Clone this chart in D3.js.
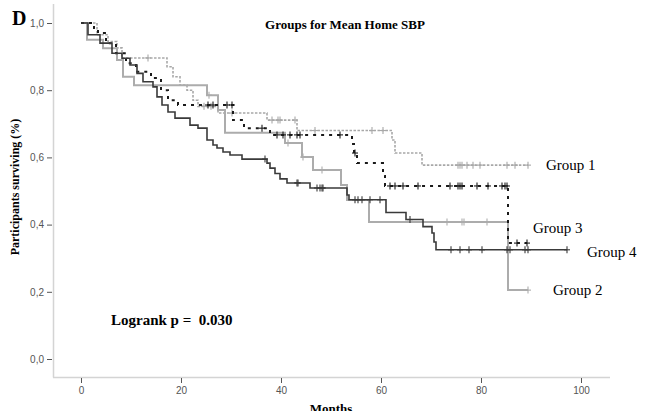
<!DOCTYPE html>
<html>
<head>
<meta charset="utf-8">
<script src="https://cdn.jsdelivr.net/npm/d3@7"></script>
<style>
  body { margin: 0; background: #fff; }
  .serif { font-family: "Liberation Serif", "Times New Roman", serif; }
  .tick text { font-family: "Liberation Sans", Arial, sans-serif; font-size: 10px; fill: #555; }
  .tick line { stroke: #555; }
</style>
</head>
<body>
<div id="chart"></div>
<script>
const WIDTH = 645;
const HEIGHT = 411;

// axis ticks
const monthTicks = [0, 20, 40, 60, 80, 100];
const survTicks = [0, 0.2, 0.4, 0.6, 0.8, 1.0];

// Group 1 (light grey dotted)
const g1Times = [0, 3.2, 5.4, 7.2, 8.2, 17.2, 18.4, 19.8, 21.2, 22.4, 23.4, 27.4, 37.2, 43.2, 62.2, 62.8, 68.2, 89.4];
const g1Surv  = [1.0, 0.965, 0.945, 0.926, 0.896, 0.87, 0.84, 0.815, 0.80, 0.77, 0.752, 0.732, 0.711, 0.68, 0.652, 0.613, 0.577, 0.577];
const g1Censor = [13.4, 24.6, 26.0, 30.2, 38.2, 39.4, 39.8, 42.8, 46.8, 58.2, 60.4, 75.4, 75.8, 76.2, 77.2, 78.4, 79.8, 85.2, 86.8, 89.4];

// Group 2 (light grey solid)
const g2Times = [0, 1.2, 4.4, 7.2, 8.4, 10.6, 25.2, 27.4, 28.8, 40.8, 44.2, 46.4, 52.0, 53.2, 57.6, 85.4, 89.4];
const g2Surv  = [1.0, 0.95, 0.925, 0.89, 0.84, 0.815, 0.785, 0.741, 0.673, 0.643, 0.601, 0.5625, 0.518, 0.473, 0.408, 0.205, 0.205];
const g2Censor = [25.6, 41.4, 44.4, 48.2, 73.2, 76.2, 76.6, 81.2, 89.4];

// Group 3 (black dashed)
const g3Times = [0, 2.6, 3.4, 5.0, 7.0, 9.0, 11.0, 14.0, 16.0, 17.4, 19.4, 30.4, 32.6, 37.8, 54.2, 54.6, 55.2, 60.4, 60.8, 85.4, 89.2];
const g3Surv  = [1.0, 0.985, 0.97, 0.94, 0.91, 0.88, 0.855, 0.836, 0.80, 0.77, 0.756, 0.711, 0.687, 0.667, 0.64, 0.613, 0.583, 0.545, 0.515, 0.345, 0.345];
const g3Censor = [25.4, 26.4, 29.2, 30.2, 36.2, 39.2, 40.4, 41.8, 43.2, 43.8, 51.8, 54.8, 61.8, 62.8, 64.4, 67.4, 73.8, 75.4, 75.8, 76.2, 79.2, 81.4, 84.2, 84.8, 85.2, 87.2, 89.2];

// Group 4 (dark grey solid)
const g4Times = [0, 1.4, 3.8, 6.2, 8.2, 9.8, 11.2, 12.4, 14.4, 15.2, 16.2, 17.4, 18.8, 21.8, 23.4, 25.2, 26.4, 27.2, 28.4, 29.8, 32.2, 37.2, 37.8, 38.8, 39.8, 41.2, 45.8, 53.2, 53.6, 61.0, 65.0, 68.4, 70.2, 70.6, 71.0, 97.2];
const g4Surv  = [1.0, 0.965, 0.94, 0.91, 0.895, 0.875, 0.85, 0.825, 0.81, 0.78, 0.756, 0.735, 0.717, 0.696, 0.687, 0.652, 0.637, 0.628, 0.616, 0.607, 0.595, 0.583, 0.568, 0.552, 0.536, 0.524, 0.509, 0.488, 0.474, 0.436, 0.415, 0.394, 0.375, 0.348, 0.325, 0.325];
const g4Censor = [36.8, 43.2, 43.4, 47.2, 47.8, 48.2, 48.4, 54.8, 55.4, 56.2, 57.8, 59.8, 65.8, 74.0, 75.8, 77.6, 80.2, 85.2, 85.8, 88.8, 89.4, 97.2];

const groupNames = ["Group 1", "Group 2", "Group 3", "Group 4"];

const svg = d3.select("#chart").append("svg")
    .attr("width", WIDTH)
    .attr("height", HEIGHT);

// scales
const x = d3.scaleLinear().domain([0, 100]).range([81, 581]);
const y = d3.scaleLinear().domain([0, 1]).range([359, 23]);

// frame lines (left + bottom only)
svg.append("line").attr("x1", 53.5).attr("x2", 53.5).attr("y1", 4).attr("y2", 377.5)
    .attr("stroke", "#d4d4d4").attr("stroke-width", 1.5);
svg.append("line").attr("x1", 53).attr("x2", 610).attr("y1", 377.5).attr("y2", 377.5)
    .attr("stroke", "#d4d4d4").attr("stroke-width", 1.5);

// axes
const fmt = d => d3.format(".1f")(d).replace(".", ",");
svg.append("g")
    .attr("transform", "translate(52,0)")
    .call(d3.axisLeft(y).tickValues(survTicks).tickSize(5).tickPadding(3).tickFormat(fmt))
    .call(g => g.select(".domain").remove());

svg.append("g")
    .attr("transform", "translate(0,378)")
    .call(d3.axisBottom(x).tickValues(monthTicks).tickSize(5).tickPadding(4).tickFormat(d3.format("d")))
    .call(g => g.select(".domain").remove());

// step curves
const line = d3.line()
    .x(d => x(d[0]))
    .y(d => y(d[1]))
    .curve(d3.curveStepAfter);

const groups = [
  {times: g1Times, surv: g1Surv, censor: g1Censor, color: "#a8a8a8", width: 1.6, dash: "2.5,1.5"},
  {times: g2Times, surv: g2Surv, censor: g2Censor, color: "#acacac", width: 2, dash: null},
  {times: g3Times, surv: g3Surv, censor: g3Censor, color: "#1a1a1a", width: 2, dash: "3,5"},
  {times: g4Times, surv: g4Surv, censor: g4Censor, color: "#3a3a3a", width: 1.6, dash: null}
];

groups.forEach(g => {
  const pts = g.times.map((t, i) => [t, g.surv[i]]);
  svg.append("path")
      .datum(pts)
      .attr("fill", "none")
      .attr("stroke", g.color)
      .attr("stroke-width", g.width)
      .attr("stroke-dasharray", g.dash)
      .attr("d", line);

  // censor "+" marks
  const survAt = t => g.surv[Math.max(0, d3.bisectRight(g.times, t) - 1)];
  const marks = svg.append("g").attr("stroke", g.color).attr("stroke-width", 1.1);
  g.censor.forEach(t => {
    const cx = x(t), cy = y(survAt(t));
    marks.append("line").attr("x1", cx).attr("x2", cx).attr("y1", cy - 3.5).attr("y2", cy + 3.5);
    marks.append("line").attr("x1", cx - 3).attr("x2", cx + 3).attr("y1", cy).attr("y2", cy);
  });
});

// text
svg.append("text").attr("class", "serif")
    .attr("x", 12).attr("y", 25)
    .attr("font-size", 20).attr("font-weight", "bold")
    .text("D");

svg.append("text").attr("class", "serif")
    .attr("x", 345).attr("y", 29)
    .attr("text-anchor", "middle")
    .attr("font-size", 13).attr("font-weight", "bold")
    .text("Groups for Mean Home SBP");

svg.append("text").attr("class", "serif")
    .attr("transform", "translate(19,187) rotate(-90)")
    .attr("text-anchor", "middle")
    .attr("font-size", 12).attr("font-weight", "bold")
    .text("Participants surviving (%)");

svg.append("text").attr("class", "serif")
    .attr("x", 331).attr("y", 413)
    .attr("text-anchor", "middle")
    .attr("font-size", 13).attr("font-weight", "bold")
    .text("Months");

svg.append("text").attr("class", "serif")
    .attr("x", 111).attr("y", 325)
    .attr("font-size", 15).attr("font-weight", "bold")
    .style("white-space", "pre")
    .text("Logrank p =  0.030");

// group labels
const labelPos = [[546, 170], [553, 295], [533, 233], [587, 257]];
groupNames.forEach((name, i) => {
  svg.append("text").attr("class", "serif")
      .attr("x", labelPos[i][0]).attr("y", labelPos[i][1])
      .attr("font-size", 15)
      .text(name);
});
</script>
</body>
</html>
